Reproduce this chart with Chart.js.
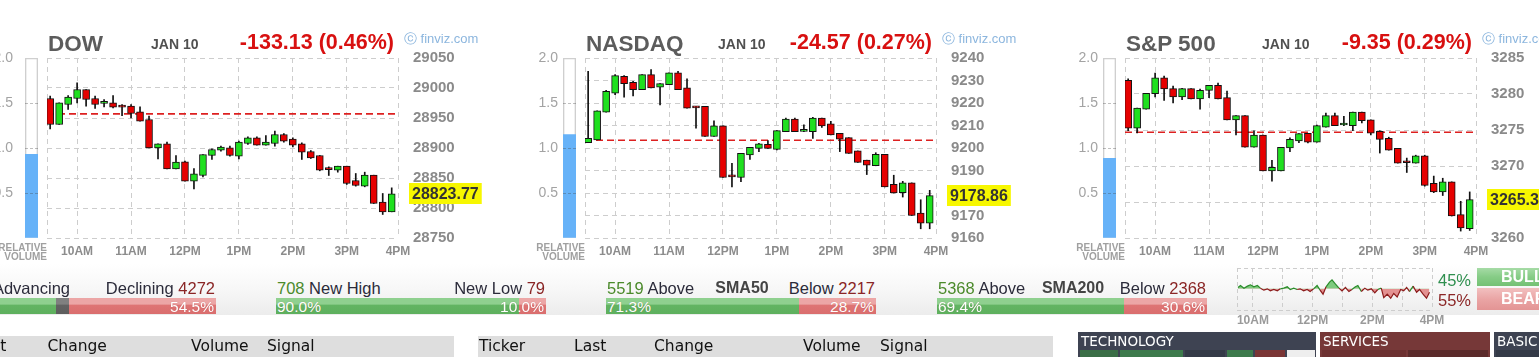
<!DOCTYPE html>
<html>
<head>
<meta charset="utf-8">
<script src="https://cdn.jsdelivr.net/npm/chart.js@4.4.1/dist/chart.umd.min.js"></script>
<style>
html,body{margin:0;padding:0;background:#fff;}
body{width:1539px;height:357px;overflow:hidden;position:relative;font-family:'Liberation Sans',Arial,sans-serif;}
.t{position:absolute;white-space:nowrap;}
canvas{position:absolute;display:block;}
.box{position:absolute;}
</style>
</head>
<body>
<script>
// ---------------- DATA ----------------
const INDEX_NAMES = ['DOW', 'NASDAQ', 'S&P 500'];
const DATE_LABEL = 'JAN 10';
const CHANGE_TEXT = ['-133.13 (0.46%)', '-24.57 (0.27%)', '-9.35 (0.29%)'];
const LAST_VALUE = [28823.77, 9178.86, 3265.33];
const LAST_TEXT = ['28823.77', '9178.86', '3265.33'];
const PREV_CLOSE = [28956.90, 9203.43, 3274.68];
const REL_VOLUME = [0.93, 1.15, 0.885];
const Y_MIN = [28750, 9160, 3260];
const Y_MAX = [29050, 9240, 3285];
const Y_STEP = [50, 10, 5];
const VOL_TICKS = [0.5, 1.0, 1.5, 2.0];

// candle start times, minutes after 9:30
const CANDLE_MIN = [0,10,20,30,40,50,60,70,80,90,100,110,120,130,140,150,160,170,180,190,200,210,220,230,240,250,260,270,280,290,300,310,320,330,340,350,360,370,380];
const X_TICK_MIN = [30, 90, 150, 210, 270, 330, 390];
const X_TICK_LABELS = ['10AM', '11AM', '12PM', '1PM', '2PM', '3PM', '4PM'];

const DOW_OPEN  = [28982.5,28939.2,28972.5,28982.5,28997.5,28982.5,28974.5,28975.3,28969.5,28969.7,28960.3,28947.5,28900.3,28907.0,28865.3,28877.0,28844.7,28854.2,28887.5,28896.4,28900.3,28886.4,28907.5,28917.0,28904.7,28907.5,28922.5,28915.0,28907.0,28894.2,28887.5,28865.3,28863.0,28869.7,28845.8,28836.4,28854.7,28809.7,28793.6];
const DOW_HIGH  = [28986.4,28975.3,28987.5,29008.6,28997.5,28986.4,28980.9,28987.5,28972.5,28972.5,28968.6,28953.1,28907.0,28909.8,28887.5,28878.1,28865.9,28889.2,28898.6,28903.0,28903.0,28911.4,28918.6,28918.6,28920.9,28928.0,28924.2,28917.0,28908.6,28895.8,28887.5,28868.6,28869.7,28869.7,28857.5,28859.7,28854.7,28824.2,28833.6];
const DOW_LOW   = [28932.0,28939.2,28964.2,28975.3,28969.7,28965.9,28968.6,28967.0,28954.0,28950.3,28944.7,28900.3,28882.0,28865.3,28865.3,28844.7,28832.0,28852.0,28880.9,28894.7,28886.4,28882.0,28905.8,28904.7,28904.7,28903.0,28909.8,28902.0,28880.9,28882.5,28862.0,28854.2,28859.7,28839.2,28836.4,28835.3,28807.5,28789.2,28793.6];
const DOW_CLOSE = [28939.2,28975.3,28984.8,28997.5,28980.9,28972.5,28976.0,28968.0,28968.0,28957.5,28944.7,28900.3,28907.0,28865.3,28876.4,28844.7,28857.0,28889.2,28897.5,28901.4,28887.5,28909.8,28917.0,28904.7,28909.8,28922.5,28911.4,28904.7,28893.0,28883.6,28863.0,28864.0,28869.7,28840.8,28837.5,28854.7,28807.5,28793.6,28823.77];

const NAS_OPEN  = [9202.4,9203.6,9215.9,9224.4,9231.9,9229.2,9225.9,9232.6,9227.0,9228.2,9233.4,9226.7,9218.2,9218.5,9205.1,9209.8,9187.6,9186.9,9196.9,9199.8,9201.6,9199.4,9207.3,9212.8,9207.4,9207.3,9213.3,9210.7,9206.5,9204.6,9198.7,9194.6,9192.1,9197.2,9183.8,9180.2,9184.5,9171.1,9166.6];
const NAS_HIGH  = [9234.1,9216.5,9225.6,9232.6,9232.2,9229.6,9232.6,9234.9,9228.6,9233.4,9234.1,9230.7,9218.5,9218.5,9212.1,9209.8,9193.2,9197.6,9200.3,9202.1,9203.3,9207.7,9213.3,9213.3,9210.3,9213.6,9213.3,9211.8,9206.5,9204.6,9198.7,9194.6,9197.9,9197.2,9187.9,9185.2,9184.5,9177.0,9181.2];
const NAS_LOW   = [9202.4,9203.6,9215.9,9223.7,9222.6,9223.2,9225.9,9226.7,9219.2,9228.2,9225.9,9217.7,9208.8,9205.1,9205.1,9186.9,9182.7,9185.0,9194.9,9198.4,9199.8,9199.1,9207.3,9207.3,9207.3,9204.3,9209.1,9205.8,9198.4,9197.6,9193.6,9188.2,9192.1,9182.7,9180.0,9178.2,9170.0,9164.1,9164.1];
const NAS_CLOSE = [9204.3,9216.5,9225.2,9232.2,9228.6,9225.9,9232.6,9226.7,9228.6,9233.4,9225.9,9217.7,9217.8,9205.1,9209.8,9186.9,9187.2,9197.6,9200.3,9201.8,9199.8,9207.7,9212.8,9207.3,9207.7,9213.3,9209.8,9205.8,9203.9,9197.6,9193.6,9192.4,9197.2,9182.7,9180.0,9184.5,9170.0,9166.6,9178.86];

const SP_OPEN  = [3281.9,3275.25,3277.9,3280.05,3282.25,3280.75,3279.6,3280.75,3279.3,3280.5,3281.2,3279.5,3276.4,3277.0,3272.6,3274.3,3269.3,3269.3,3272.5,3273.5,3274.55,3273.3,3275.4,3277.0,3275.7,3275.6,3277.5,3276.4,3274.8,3273.85,3272.45,3270.5,3270.4,3271.4,3267.6,3266.4,3267.8,3263.25,3261.3];
const SP_HIGH  = [3282.1,3278.05,3280.1,3282.9,3282.5,3281.1,3280.8,3280.75,3280.7,3281.2,3281.5,3280.4,3277.0,3277.0,3274.9,3274.3,3270.8,3272.6,3273.9,3274.5,3274.55,3275.7,3277.35,3277.35,3276.9,3277.5,3277.5,3276.4,3274.9,3274.0,3272.45,3271.1,3271.5,3271.5,3268.6,3268.3,3267.8,3265.1,3266.4];
const SP_LOW   = [3274.9,3274.6,3277.9,3279.6,3279.1,3278.75,3279.2,3279.3,3277.9,3279.5,3279.3,3276.4,3274.3,3272.6,3272.6,3269.3,3267.9,3269.3,3272.0,3273.25,3273.2,3273.3,3275.4,3275.6,3275.6,3274.9,3276.0,3274.3,3271.8,3272.2,3270.4,3269.1,3270.4,3267.2,3266.3,3265.9,3263.05,3260.96,3261.05];
const SP_CLOSE = [3275.25,3278.05,3280.1,3282.25,3280.7,3279.6,3280.75,3279.3,3280.5,3281.2,3279.3,3276.4,3277.0,3272.6,3274.3,3269.3,3269.8,3272.6,3273.7,3274.5,3273.3,3275.6,3277.0,3275.6,3275.75,3277.5,3276.3,3274.55,3273.7,3272.2,3270.4,3270.45,3271.4,3267.3,3266.4,3267.8,3263.05,3261.4,3265.33];

// market breadth
const BREADTH_LEFT_NUM   = ['', '708', '5519', '5368'];
const BREADTH_LEFT_WORD  = ['Advancing', ' New High', ' Above', ' Above'];
const BREADTH_MID        = ['', '', 'SMA50', 'SMA200'];
const BREADTH_RIGHT_WORD = ['Declining ', 'New Low ', 'Below ', 'Below '];
const BREADTH_RIGHT_NUM  = ['4272', '79', '2217', '2368'];
const BREADTH_GREEN_PCT  = [40.6, 90.0, 71.3, 69.4];
const BREADTH_GRAY_PCT   = [4.9, 0, 0, 0];
const BREADTH_RED_PCT    = [54.5, 10.0, 28.7, 30.6];
const BREADTH_LEFT_PCT_TEXT  = ['', '90.0%', '71.3%', '69.4%'];
const BREADTH_RIGHT_PCT_TEXT = ['54.5%', '10.0%', '28.7%', '30.6%'];

// bull / bear sentiment line (minutes after 9:30, deviation from neutral)
const MOOD_MIN = [0,5,12,19,25,32,39,45,52,59,65,72,79,85,92,99,105,112,119,125,132,139,145,152,159,165,171,177,184,189,196,203,209,216,223,229,236,241,248,255,261,268,275,281,288,293,300,307,313,320,327,333,339,345,352,359,365,372,379,385];
const MOOD_VAL = [4,10,2,8,12,6,10,2,-4,0,-6,-2,-6,0,2,6,-2,2,-2,0,-6,-2,-8,0,10,-4,-16,6,20,27,14,2,-6,4,-8,-2,6,10,-8,2,-4,0,-12,-2,2,-26,-16,-28,-14,-24,-2,-6,4,-8,8,-10,-2,-16,-28,-10];
const MOOD_TICK_LABELS = ['10AM', '', '12PM', '', '2PM', '', '4PM'];
const MOOD_PCT = ['45%', '55%'];
const MOOD_NAMES = ['BULL', 'BEAR'];

const TABLE1_HEAD = ['Last', 'Change', 'Volume', 'Signal'];
const TABLE2_HEAD = ['Ticker', 'Last', 'Change', 'Volume', 'Signal'];
const SECTOR_NAMES = ['TECHNOLOGY', 'SERVICES', 'BASIC'];

// ---------------- LAYOUT / STYLE ----------------
const OPENS = [DOW_OPEN, NAS_OPEN, SP_OPEN];
const HIGHS = [DOW_HIGH, NAS_HIGH, SP_HIGH];
const LOWS = [DOW_LOW, NAS_LOW, SP_LOW];
const CLOSES = [DOW_CLOSE, NAS_CLOSE, SP_CLOSE];
const PANEL_OFF = [-538, 0, 540];
const DATE_X = [151, 718, 1262];
const FONT = "'Liberation Sans', Arial, sans-serif";
const GRID = '#cdcdcd';
const UP = '#1fe01f', DOWN = '#e60000';
const XMIN = -3.5, XMAX = 387;

Chart.defaults.font.family = FONT;

function addText(parts, x, base, size, align, extra) {
  const d = document.createElement('div');
  d.className = 't';
  d.style.fontSize = size + 'px';
  d.style.lineHeight = size + 'px';
  d.style.top = (base - 0.8465 * size) + 'px';
  d.style.left = x + 'px';
  if (align === 'right') d.style.transform = 'translateX(-100%)';
  else if (align === 'center') d.style.transform = 'translateX(-50%)';
  if (extra) Object.assign(d.style, extra);
  for (const p of parts) {
    const sp = document.createElement('span');
    sp.textContent = p[0];
    sp.style.color = p[1];
    if (p[2]) sp.style.fontWeight = p[2];
    d.appendChild(sp);
  }
  document.body.appendChild(d);
  return d;
}
function addBox(x, y, w, h, bg, extra) {
  const d = document.createElement('div');
  d.className = 'box';
  Object.assign(d.style, {left: x + 'px', top: y + 'px', width: w + 'px', height: h + 'px', background: bg});
  if (extra) Object.assign(d.style, extra);
  document.body.appendChild(d);
  return d;
}
function addCanvas(x, y, w, h) {
  const c = document.createElement('canvas');
  c.width = w; c.height = h;
  c.style.left = x + 'px'; c.style.top = y + 'px';
  c.style.width = w + 'px'; c.style.height = h + 'px';
  document.body.appendChild(c);
  return c;
}

// background band behind breadth bars
addBox(0, 264, 1539, 51, 'linear-gradient(to bottom, #ffffff 0%, #f6f6f6 55%, #ececec 100%)');

function makePanel(k) {
  const off = PANEL_OFF[k];
  const PL = 585 + off, PR = PL + 351;

  // candle chart
  const cv = addCanvas(PL - 8, 50, 449, 218);
  const O = OPENS[k], H = HIGHS[k], L = LOWS[k], C = CLOSES[k];
  const bodies = CANDLE_MIN.map((m, i) => ({x: m, y: [O[i], C[i]]}));
  const wicks = CANDLE_MIN.map((m, i) => ({x: m, y: [L[i], H[i]]}));
  const colors = C.map((c, i) => c >= O[i] ? UP : DOWN);
  const tickVals = X_TICK_MIN.map(v => Math.min(v, XMAX));
  const lastLabel = {
    id: 'lastLabel' + k,
    afterDraw(chart) {
      const ctx = chart.ctx;
      const y = chart.scales.y.getPixelForValue(LAST_VALUE[k]);
      const x = chart.chartArea.right + 11;
      ctx.save();
      ctx.font = 'bold 16px ' + FONT;
      const w = ctx.measureText(LAST_TEXT[k]).width + 6;
      ctx.fillStyle = '#f7f700';
      ctx.fillRect(x, Math.round(y - 10.5), w, 21);
      ctx.fillStyle = '#333';
      ctx.textBaseline = 'middle';
      ctx.fillText(LAST_TEXT[k], x + 3, y + 1);
      ctx.restore();
    }
  };
  new Chart(cv, {
    type: 'bar',
    data: {datasets: [
      {type: 'bar', data: bodies, backgroundColor: colors, borderColor: '#111', borderWidth: 1,
       borderSkipped: false, barThickness: 7, maxBarThickness: 7, grouped: false, order: 0, minBarLength: 2},
      {type: 'bar', data: wicks, backgroundColor: '#111', borderWidth: 0,
       barThickness: 1, maxBarThickness: 1, grouped: false, order: 1},
      {type: 'line', data: [{x: XMIN, y: PREV_CLOSE[k]}, {x: XMAX, y: PREV_CLOSE[k]}],
       borderColor: '#dd2020', borderWidth: 1.6, borderDash: [7, 4], pointRadius: 0, order: 2}
    ]},
    options: {
      responsive: false, animation: false, events: [],
      layout: {padding: {left: 8, top: 8, right: 0, bottom: 0}},
      plugins: {legend: {display: false}, tooltip: {enabled: false}},
      scales: {
        x: {
          type: 'linear', min: XMIN, max: XMAX, offset: false,
          afterBuildTicks: s => { s.ticks = [XMIN].concat(tickVals).map(v => ({value: v})); },
          ticks: {autoSkip: false, maxRotation: 0, padding: 6, color: '#8c8c8c',
                  font: {size: 12, weight: 'bold'},
                  callback: v => { const i = tickVals.indexOf(v); return i < 0 ? '' : X_TICK_LABELS[i]; }},
          grid: {color: GRID, drawTicks: false, offset: false},
          border: {display: false, dash: [5, 4]},
          afterFit: s => { s.height = 30; s.paddingLeft = 0; s.paddingRight = 0; s.paddingTop = 0; s.paddingBottom = 0; }
        },
        y: {
          position: 'right', min: Y_MIN[k], max: Y_MAX[k], beginAtZero: false,
          ticks: {stepSize: Y_STEP[k], padding: 15, color: '#8a8a8a', font: {size: 15, weight: 'bold'},
                  callback: v => String(v)},
          grid: {color: GRID, drawTicks: false},
          border: {display: false, dash: [5, 4]},
          afterFit: s => { s.width = 90; s.paddingTop = 0; s.paddingBottom = 0; s.paddingLeft = 0; s.paddingRight = 0; }
        }
      }
    },
    plugins: [lastLabel]
  });

  // relative volume bar
  const vc = addCanvas(530 + off, 50, 50, 218);
  new Chart(vc, {
    type: 'bar',
    data: {labels: ['RV'], datasets: [
      {data: [REL_VOLUME[k]], backgroundColor: '#66b2f8', borderWidth: 0,
       barPercentage: 1, categoryPercentage: 1, grouped: false, order: 0},
      {data: [VOL_TICKS[VOL_TICKS.length - 1]], backgroundColor: 'rgba(0,0,0,0)', borderColor: '#cfcfcf', borderWidth: 1,
       borderSkipped: false, barPercentage: 1, categoryPercentage: 1, grouped: false, order: 1}
    ]},
    options: {
      responsive: false, animation: false, events: [],
      layout: {padding: {left: 0, top: 8, right: 4, bottom: 30}},
      plugins: {legend: {display: false}, tooltip: {enabled: false}},
      scales: {
        x: {display: false},
        y: {
          min: 0, max: 2, beginAtZero: true,
          afterBuildTicks: s => { s.ticks = [0].concat(VOL_TICKS).map(v => ({value: v})); },
          ticks: {padding: k === 0 ? 12 : 5, color: '#a3a3a3', font: {size: 14},
                  callback: v => VOL_TICKS.includes(v) ? v.toFixed(1) : ''},
          grid: {drawTicks: false, z: 1,
                 color: c => (c.tick && c.tick.value > 0 && c.tick.value < 2) ? 'rgba(70,70,70,0.35)' : 'rgba(0,0,0,0)'},
          border: {display: false, dash: [3, 2]},
          afterFit: s => { s.width = 33; s.paddingTop = 0; s.paddingBottom = 0; }
        }
      }
    }
  });

  // texts
  addText([['RELATIVE', '#a0a0a0', 'bold']], PL, 251.5, 10, 'right');
  addText([['VOLUME', '#a0a0a0', 'bold']], PL, 260, 10, 'right');
  addText([[INDEX_NAMES[k], '#5c5c5c', 'bold']], PL + 1, 52, 22.5, 'left');
  addText([[DATE_LABEL, '#505050', 'bold']], DATE_X[k], 49, 14, 'left');
  addText([[CHANGE_TEXT[k], '#d81010', 'bold']], PR - 4, 50.5, 21.5, 'right');
  addText([['\u24D2 finviz.com', '#8cb6de']], PR + 6, 43, 13, 'left');
}
[0, 1, 2].forEach(makePanel);

// ---------------- breadth bars ----------------
const BAR_X = [-54, 276, 606, 937];
const BAR_W = 270;
const GREEN_G = 'linear-gradient(to bottom, #8fd08f 0%, #8fd08f 38%, #62b462 45%, #5eb05e 100%)';
const RED_G = 'linear-gradient(to bottom, #eca6a6 0%, #eca6a6 38%, #de7474 45%, #da6e6e 100%)';
const GRAY_G = 'linear-gradient(to bottom, #808080 0%, #808080 38%, #626262 45%, #5e5e5e 100%)';
for (let i = 0; i < 4; i++) {
  const x0 = BAR_X[i];
  const gw = BAR_W * BREADTH_GREEN_PCT[i] / 100;
  const yw = BAR_W * BREADTH_GRAY_PCT[i] / 100;
  const rw = BAR_W * BREADTH_RED_PCT[i] / 100;
  addBox(x0, 298, gw, 16, GREEN_G);
  if (yw > 0) addBox(x0 + gw, 298, yw, 16, GRAY_G);
  addBox(x0 + BAR_W - rw, 298, rw, 16, RED_G);
  const pctStyle = {textShadow: '0 0 1px rgba(120,0,0,0.25)'};
  if (BREADTH_LEFT_PCT_TEXT[i]) addText([[BREADTH_LEFT_PCT_TEXT[i], '#ffffff']], x0 + 1, 312.5, 15.5, 'left', pctStyle);
  addText([[BREADTH_RIGHT_PCT_TEXT[i], '#ffffff']], x0 + BAR_W - 2, 312.5, 15.5, 'right', pctStyle);
  if (i === 0) addText([[BREADTH_LEFT_WORD[i], '#2b2b3a']], 70, 293.5, 16.5, 'right');
  else addText([[BREADTH_LEFT_NUM[i], '#4b8a2b'], [BREADTH_LEFT_WORD[i], '#2b2b3a']], x0 + 1, 293.5, 16.5, 'left');
  addText([[BREADTH_RIGHT_WORD[i], '#2b2b3a'], [BREADTH_RIGHT_NUM[i], '#8a2525']], x0 + BAR_W - 1, 293.5, 16.5, 'right');
  if (BREADTH_MID[i]) addText([[BREADTH_MID[i], '#444', 'bold']], x0 + 136, 293.5, 16, 'center');
}

// ---------------- sentiment mini chart ----------------
const mc = addCanvas(1230, 262, 215, 70);
new Chart(mc, {
  type: 'line',
  data: {datasets: [{
    data: MOOD_MIN.map((m, i) => ({x: m, y: MOOD_VAL[i]})),
    borderWidth: 1.2, pointRadius: 0, tension: 0, borderColor: '#2a8c2a',
    fill: {target: {value: 0}, above: 'rgba(95,190,95,0.8)', below: 'rgba(222,120,120,0.8)'},
    segment: {borderColor: c => (c.p0.parsed.y + c.p1.parsed.y) >= 0 ? '#2a8c2a' : '#8c1c1c'}
  }]},
  options: {
    responsive: false, animation: false, events: [],
    layout: {padding: {left: 7, top: 6, right: 13, bottom: 0}},
    plugins: {legend: {display: false}, tooltip: {enabled: false}},
    scales: {
      x: {
        type: 'linear', min: -2, max: 390,
        afterBuildTicks: s => { s.ticks = [-2].concat(X_TICK_MIN).map(v => ({value: v})); },
        ticks: {autoSkip: false, maxRotation: 0, padding: 3, color: '#9a9a9a', font: {size: 12, weight: 'bold'},
                callback: v => { const i = X_TICK_MIN.indexOf(v); return i < 0 ? '' : MOOD_TICK_LABELS[i]; }},
        grid: {color: GRID, drawTicks: false},
        border: {display: false, dash: [4, 3]},
        afterFit: s => { s.height = 22; s.paddingLeft = 0; s.paddingRight = 0; s.paddingTop = 0; s.paddingBottom = 0; }
      },
      y: {
        min: -63, max: 62,
        afterBuildTicks: s => { s.ticks = [{value: -63}, {value: 62}]; },
        ticks: {display: false},
        grid: {color: GRID, drawTicks: false},
        border: {display: false, dash: [4, 3]},
        afterFit: s => { s.width = 0; s.paddingTop = 0; s.paddingBottom = 0; }
      }
    }
  }
});
addText([[MOOD_PCT[0], '#2f8f4f']], 1438, 286, 16.5, 'left');
addText([[MOOD_PCT[1], '#8b2626']], 1438, 306, 16.5, 'left');
addBox(1477, 268, 70, 18, 'linear-gradient(to bottom, #a6dba6 0%, #86cc86 50%, #74c174 100%)');
addBox(1477, 288, 70, 22, 'linear-gradient(to bottom, #f2c0c0 0%, #eaa5a5 50%, #e39494 100%)');
addText([[MOOD_NAMES[0], '#ffffff', 'bold']], 1501, 283, 16, 'left');
addText([[MOOD_NAMES[1], '#ffffff', 'bold']], 1501, 305, 16, 'left');

// ---------------- table headers ----------------
addBox(0, 336, 454, 30, '#dedede');
addBox(478, 336, 575, 30, '#dedede');
const DJ = {fontFamily: "'DejaVu Sans', Verdana, sans-serif"};
const T1X = [-26, 47.5, 191, 267];
TABLE1_HEAD.forEach((s, i) => addText([[s, '#111']], T1X[i], 352.5, 15.5, 'left', DJ));
const T2X = [479, 574, 654, 803, 880];
TABLE2_HEAD.forEach((s, i) => addText([[s, '#111']], T2X[i], 352.5, 15.5, 'left', DJ));

// ---------------- sector map header ----------------
const SEC_X = [1078, 1320, 1494], SEC_W = [238, 170, 60], SEC_BG = ['#3e4352', '#763838', '#3e4352'];
SECTOR_NAMES.forEach((s, i) => {
  addBox(SEC_X[i], 332, SEC_W[i], 30, SEC_BG[i]);
  addText([[s, '#ffffff']], SEC_X[i] + 3, 346.5, 13.5, 'left', DJ);
});
// cells under the sector headers
addBox(1080, 350, 38, 8, '#3a6e46');
addBox(1120, 350, 63, 8, '#3d7a4c');
addBox(1185, 350, 40, 8, '#343a47');
addBox(1227, 350, 26, 8, '#3d7a4c');
addBox(1255, 350, 30, 8, '#7a3535');
addBox(1287, 350, 28, 8, '#eeeeee');
addBox(1322, 350, 84, 8, '#6c3030');
addBox(1408, 350, 80, 8, '#5b2b2b');
addBox(1496, 350, 43, 8, '#343a47');
</script>
</body>
</html>
